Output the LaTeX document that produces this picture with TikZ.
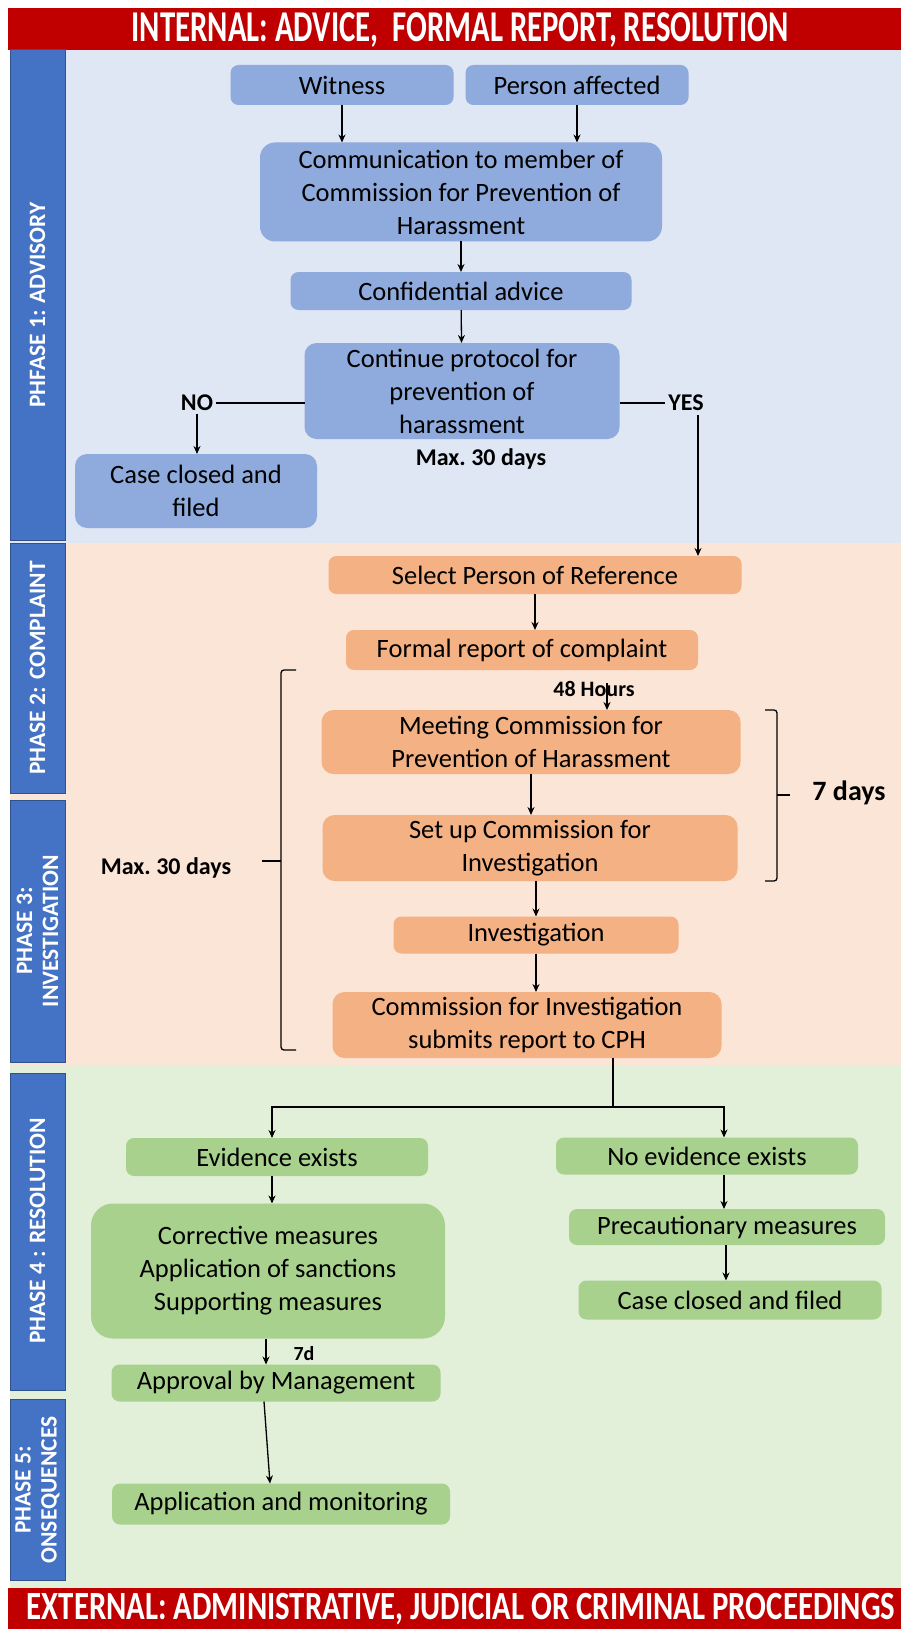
\documentclass[tikz,border=0pt]{standalone}
\usepackage{fontspec}
\setmainfont{Carlito}
\usetikzlibrary{arrows.meta}
\definecolor{barred}{HTML}{C00000}
\definecolor{phaseblue}{HTML}{4472C4}
\definecolor{phaseedge}{HTML}{2F528F}
\definecolor{bgblue}{HTML}{DFE6F4}
\definecolor{bgpeach}{HTML}{FBE5D6}
\definecolor{bggreen}{HTML}{E2F0D9}
\definecolor{boxblue}{HTML}{8FAADC}
\definecolor{boxorange}{HTML}{F4B183}
\definecolor{boxgreen}{HTML}{A9D18E}
\begin{document}
\begin{tikzpicture}[x=1pt, y=-1pt, >={Stealth[length=8pt,width=7pt]},
  every node/.style={inner sep=0pt, outer sep=0pt},
  stepbox/.style={rounded corners=8pt, align=center, font=\fontsize{26.5}{33}\selectfont},
  bluebox/.style={stepbox, fill=boxblue},
  orangebox/.style={stepbox, fill=boxorange},
  greenbox/.style={stepbox, fill=boxgreen},
  phasebar/.style={fill=phaseblue, draw=phaseedge, line width=1pt},
  phaselabel/.style={rotate=90, text=white, align=center, font=\bfseries\fontsize{23.5}{26}\selectfont},
  banner/.style={text=white, font=\bfseries\fontsize{44}{44}\selectfont},
  note/.style={inner sep=3pt, font=\bfseries\fontsize{24}{28}\selectfont},
  line/.style={line width=1.3pt},
  link/.style={line, ->}
]
  \useasboundingbox (0,0) rectangle (901,1629);
  \fill[bgblue] (10,50) rectangle (901,543);
  \fill[bgpeach] (10,543) rectangle (901,1065);
  \fill[bggreen] (10,1065) rectangle (901,1588);
  \fill[barred] (8,8) rectangle (901,50);
  \fill[barred] (8,1588) rectangle (901,1629);
  \node[banner] (internal) at (460,30) {\scalebox{0.7}[1]{INTERNAL: ADVICE,\ \ FORMAL REPORT, RESOLUTION}};
  \node[banner, font=\bfseries\fontsize{40}{40}\selectfont] (external) at (461,1609) {\scalebox{0.77}[1]{EXTERNAL: ADMINISTRATIVE, JUDICIAL OR CRIMINAL PROCEEDINGS}};

  \draw[phasebar] (10,50) rectangle (65,540);
  \draw[phasebar] (10,543) rectangle (65,793);
  \draw[phasebar] (10,800) rectangle (65,1062);
  \draw[phasebar] (10,1073) rectangle (65,1390);
  \draw[phasebar] (10,1399) rectangle (65,1580);
  \node[phaselabel] (phase1) at (37.5,305) {PHFASE 1: ADVISORY};
  \node[phaselabel] (phase2) at (37.5,668) {PHASE 2: COMPLAINT};
  \node[phaselabel] (phase3) at (37.5,931) {PHASE 3:\\INVESTIGATION};
  \node[phaselabel] (phase4) at (37.5,1231) {PHASE 4 : RESOLUTION};
  \node[phaselabel] (phase5) at (37.5,1490) {PHASE 5:\\ONSEQUENCES};

  \node[bluebox, minimum width=223pt, minimum height=40pt] (witness) at (342,85) {Witness};
  \node[bluebox, minimum width=223pt, minimum height=40pt] (affected) at (577,85) {Person affected};
  \node[bluebox, rounded corners=15pt, minimum width=402pt, minimum height=99pt] (comm) at (461,192) {Communication to member of\\Commission for Prevention of\\Harassment};
  \node[bluebox, minimum width=341pt, minimum height=38pt] (advice) at (461,291) {Confidential advice};
  \node[bluebox, rounded corners=12pt, minimum width=315pt, minimum height=96pt] (protocol) at (462,391) {Continue protocol for\\prevention of\\harassment};
  \node[note] (no) at (197,403) {NO};
  \node[note] (yes) at (686,403) {YES};
  \node[note] (maxadvice) at (481,459) {Max.\ 30 days};
  \node[bluebox, rounded corners=12pt, minimum width=242pt, minimum height=74pt] (closedone) at (196,491) {Case closed and\\filed};
  \coordinate (yesdrop) at (698,415);

  \draw[link] (witness) -- (witness |- comm.north);
  \draw[link] (affected) -- (affected |- comm.north);
  \draw[link] (comm) -- (advice);
  \draw[link] (advice) -- (protocol);
  \draw[line] (no.east) -- (no -| protocol.west);
  \draw[link] (no) -- (no |- closedone.north);
  \draw[line] (yes -| protocol.east) -- (yes.west);

  \node[orangebox, minimum width=413pt, minimum height=38pt] (select) at (535,575) {Select Person of Reference};
  \node[orangebox, minimum width=352pt, minimum height=40pt] (formal) at (522,650) {Formal report of complaint};
  \node[note, font=\bfseries\fontsize{22}{26}\selectfont] (hours) at (594,689) {48 Hours};
  \node[orangebox, rounded corners=12pt, minimum width=419pt, minimum height=64pt] (meeting) at (531,742) {Meeting Commission for\\Prevention of Harassment};
  \node[orangebox, rounded corners=12pt, minimum width=415pt, minimum height=66pt] (setup) at (530,848) {Set up Commission for\\Investigation};
  \node[note, font=\bfseries\fontsize{28}{32}\selectfont] (sevendays) at (849,793) {7 days};
  \node[orangebox, minimum width=285pt, minimum height=37pt] (invest) at (536,935) {Investigation};
  \node[orangebox, rounded corners=12pt, minimum width=389pt, minimum height=66pt] (report) at (527,1025) {Commission for Investigation\\submits report to CPH};
  \node[note] (maxinvest) at (166,868) {Max.\ 30 days};
  \coordinate (hourstop) at (607,683);

  \draw[link] (yesdrop) -- (yesdrop |- select.north);
  \draw[link] (select) -- (select |- formal.north);
  \draw[link] (hourstop) -- (hourstop |- meeting.north);
  \draw[link] (meeting) -- (meeting |- setup.north);
  \draw[link] (setup.south -| invest) -- (invest);
  \draw[link] (invest) -- (invest |- report.north);
  \draw[line, rounded corners=3pt] (765,710) -- (777,710) -- (777,881) -- (765,881);
  \draw[line] (777,795) -- (790,795);
  \draw[line, rounded corners=3pt] (296,670) -- (281,670) -- (281,1050) -- (296,1050);
  \draw[line] (281,861) -- (262,861);

  \node[greenbox, minimum width=302pt, minimum height=38pt] (evidence) at (277,1157) {Evidence exists};
  \node[greenbox, minimum width=302pt, minimum height=37pt] (noevidence) at (707,1156) {No evidence exists};
  \node[greenbox, rounded corners=22pt, minimum width=354pt, minimum height=135pt] (measures) at (268,1271) {Corrective measures\\Application of sanctions\\Supporting measures};
  \node[note, font=\bfseries\fontsize{20}{24}\selectfont] (sevend) at (304,1354) {7d};
  \node[greenbox, minimum width=329pt, minimum height=37pt] (approval) at (276,1383) {Approval by Management};
  \node[greenbox, minimum width=338pt, minimum height=41pt] (monitor) at (281,1504) {Application and monitoring};
  \node[greenbox, minimum width=316pt, minimum height=36pt] (precaution) at (727,1227) {Precautionary measures};
  \node[greenbox, minimum width=303pt, minimum height=39pt] (closedtwo) at (730,1300) {Case closed and filed};
  \coordinate (split) at (613,1107);

  \draw[line] (report.south -| split) -- (split);
  \draw[link] (split) -| ([xshift=-5pt]evidence.north);
  \draw[link] (split) -| ([xshift=17pt]noevidence.north);
  \draw[link] ([xshift=-5pt]evidence.south) -- ([xshift=-5pt]evidence.south |- measures.north);
  \draw[link] ([xshift=-2pt]measures.south) -- ([xshift=-2pt]measures.south |- approval.north);
  \draw[link] ([xshift=-12pt]approval.south) -- ([xshift=-11pt]monitor.north);
  \draw[link] ([xshift=17pt]noevidence.south) -- ([xshift=17pt]noevidence.south |- precaution.north);
  \draw[link] ([xshift=-1pt]precaution.south) -- ([xshift=-1pt]precaution.south |- closedtwo.north);
\end{tikzpicture}
\end{document}
